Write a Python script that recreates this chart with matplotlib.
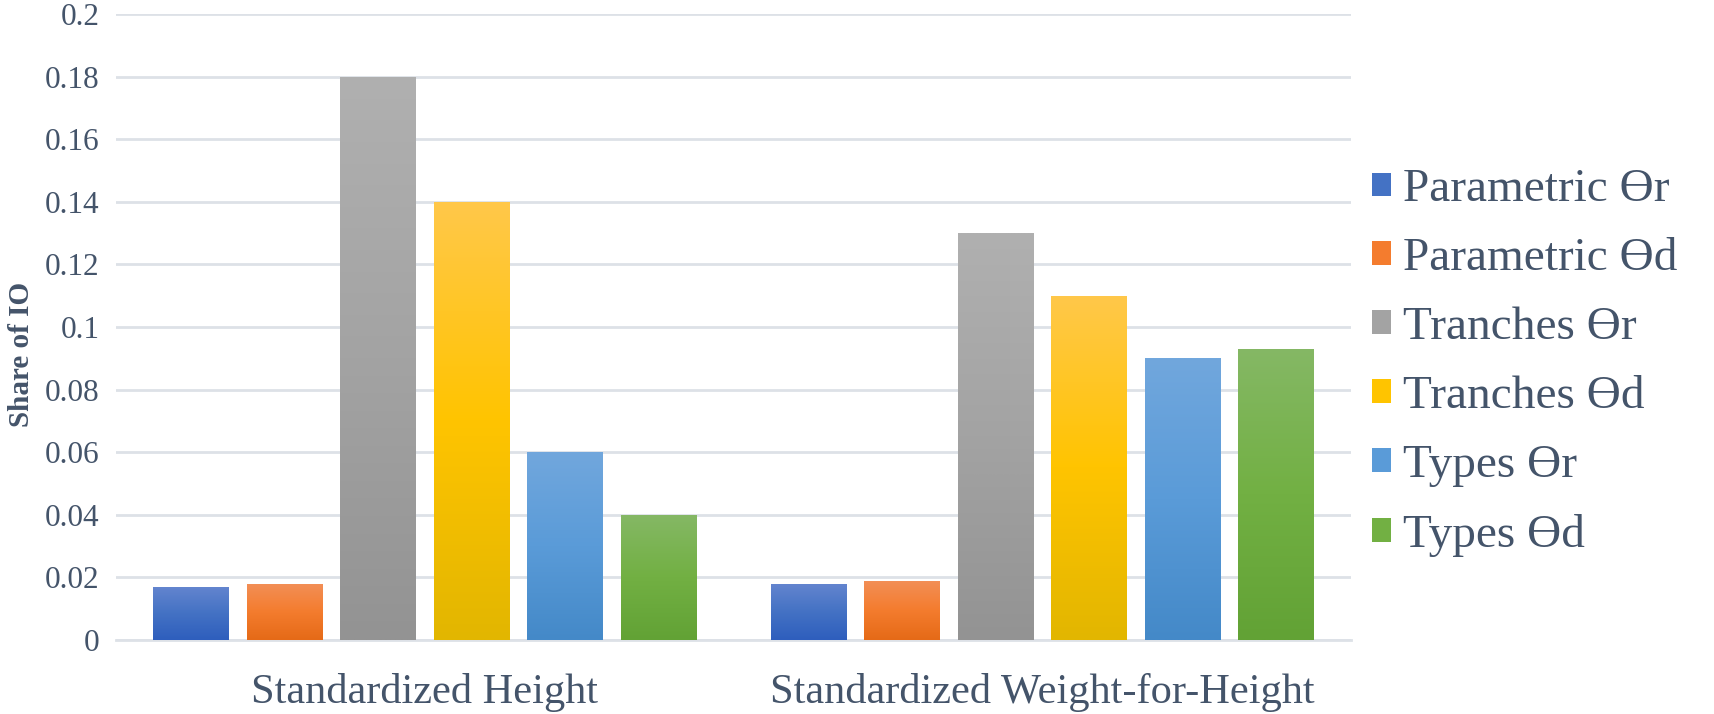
"""
plot.py
Share of IO bar chart (Excel style gradients), matplotlib only.
"""

import numpy as np
import matplotlib

matplotlib.use("Agg")
import matplotlib.pyplot as plt
from matplotlib.colors import LinearSegmentedColormap
from matplotlib.patches import Patch
from matplotlib.ticker import FuncFormatter, MultipleLocator

categories = ["Standardized Height", "Standardized Weight-for-Height"]
series = ["Parametric \u019fr", "Parametric \u019fd", "Tranches \u019fr",
          "Tranches \u019fd", "Types \u019fr", "Types \u019fd"]
values = [
    [0.017, 0.018],   # Parametric r
    [0.018, 0.019],   # Parametric d
    [0.180, 0.130],   # Tranches r
    [0.140, 0.110],   # Tranches d
    [0.060, 0.090],   # Types r
    [0.040, 0.093],   # Types d
]
# (top, middle, bottom) of each bar's gradient
grads = [
    ("#6485CF", "#4472C4", "#2E5EBD"),
    ("#F28F57", "#F47C2E", "#E56A17"),
    ("#B0B0B0", "#A3A3A3", "#939393"),
    ("#FFC84A", "#FFC400", "#E2B600"),
    ("#71A7DD", "#5A9BD8", "#4489C8"),
    ("#85B865", "#72B043", "#62A235"),
]

TXT = "#44546A"
GRID = "#DDE1E7"
SERIF = ["Liberation Serif", "DejaVu Serif"]

fig = plt.figure(figsize=(17.15, 7.14), dpi=100)
ax = fig.add_axes([0.0676, 0.1036, 0.7202, 0.8768])

x = np.arange(len(categories))
step = 0.1514
width = 0.1223
handles = []
for i, (name, vals, g) in enumerate(zip(series, values, grads)):
    bars = ax.bar(x + (i - 2.5) * step, vals, width, color=g[1], zorder=3)
    cmap = LinearSegmentedColormap.from_list(f"g{i}", [g[0], g[1], g[2]])
    grad = np.linspace(0, 1, 256).reshape(-1, 1)
    for b in bars:
        bx, by = b.get_x(), b.get_y()
        im = ax.imshow(grad, cmap=cmap, aspect="auto", origin="upper",
                       extent=[bx, bx + b.get_width(), by, by + b.get_height()],
                       zorder=3.5, interpolation="bilinear")
        im.set_clip_path(b)
    handles.append(Patch(facecolor=g[1], edgecolor="none", label=name))

ax.set_xlim(-0.5, 1.5)
ax.set_ylim(0, 0.2)
ax.yaxis.set_major_locator(MultipleLocator(0.02))
ax.yaxis.set_major_formatter(FuncFormatter(lambda v, p: f"{round(v, 2):g}"))
ax.set_xticks(x)
ax.set_xticklabels(categories, family=SERIF, fontsize=30.5, color=TXT)
for t in ax.get_yticklabels():
    t.set_family(SERIF)
    t.set_fontsize(22.5)
    t.set_color(TXT)
ax.tick_params(axis="both", length=0)
ax.tick_params(axis="y", pad=12)
ax.tick_params(axis="x", pad=24)
ax.grid(axis="y", color=GRID, linewidth=2, zorder=0)
ax.set_axisbelow(True)
for s in ["top", "right", "left"]:
    ax.spines[s].set_visible(False)
ax.spines["bottom"].set_color(GRID)
ax.spines["bottom"].set_linewidth(2)

fig.text(0.0125, 0.503, "Share of IO", rotation=90, ha="center", va="center",
         family=SERIF, fontsize=21, fontweight="bold", color=TXT)

leg = fig.legend(handles=handles, loc="center left", bbox_to_anchor=(0.8, 0.492),
                 frameon=False, prop={"family": SERIF, "size": 34},
                 handlelength=0.4, handleheight=0.4, handletextpad=0.25,
                 labelspacing=0.56, borderaxespad=0, borderpad=0)
for t in leg.get_texts():
    t.set_color(TXT)

fig.savefig("out.png", dpi=100)
